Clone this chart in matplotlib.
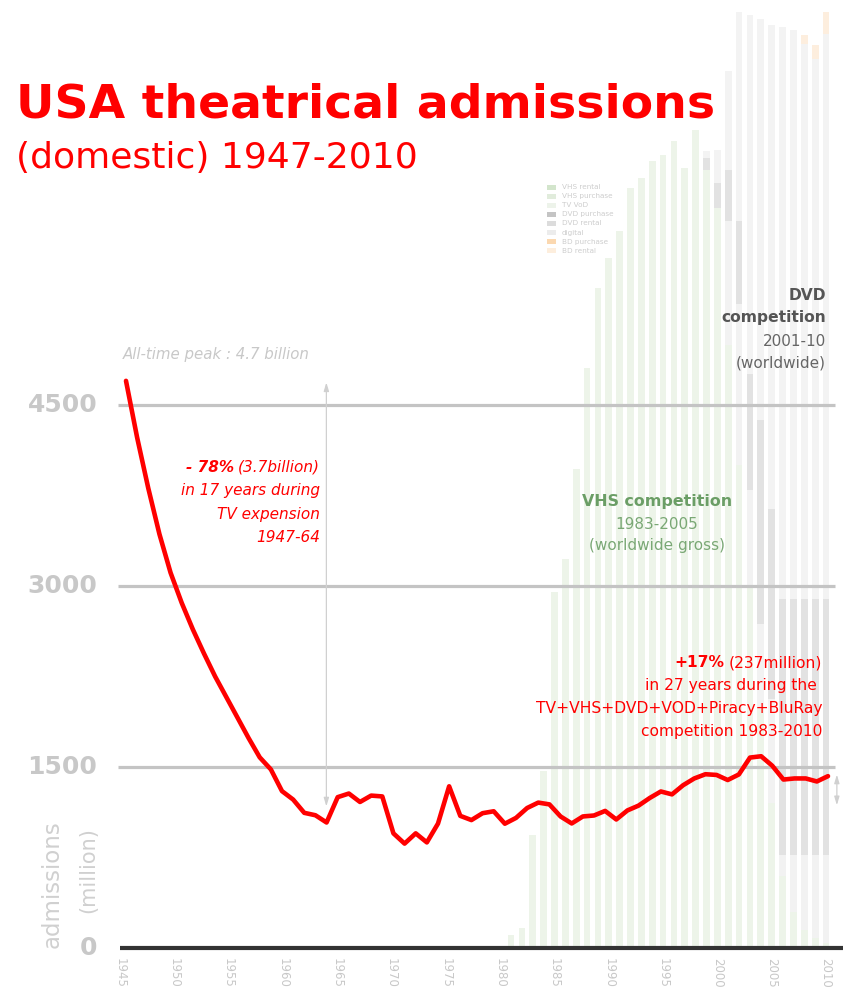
import matplotlib
matplotlib.use('Agg')
from matplotlib import pyplot as plt
from matplotlib.patches import Rectangle

plt.rcParams['font.family'] = ['DejaVu Sans']

# admissions (million)
years = list(range(1947, 2011))
admissions = [4700, 4230, 3810, 3430, 3110, 2860, 2640, 2440, 2250, 2080,
              1910, 1740, 1580, 1480, 1300, 1230, 1120, 1100, 1040, 1250,
              1280, 1210, 1263, 1256, 950, 865, 950, 875, 1031, 1340,
              1095, 1060, 1117, 1133, 1030, 1078, 1160, 1205, 1190, 1090,
              1032, 1090, 1098, 1136, 1065, 1140, 1180, 1243, 1297, 1273,
              1349, 1405, 1440, 1434, 1392, 1438, 1578, 1589, 1510, 1396,
              1405, 1405, 1380, 1424]

# faint background bars (video market, drawn on the same vertical scale)
bar_years = list(range(1981, 2011))
vhs = [108, 166, 939, 1463, 2950, 3224, 3972, 4803, 5468, 5717,
       5942, 6299, 6382, 6523, 6573, 6690, 6465, 6781, 6448, 6133,
       5000, 4000, 3000, 2000, 1200, 600, 300, 150, 80, 40]
dvd_rental = [0] * 20 + [1025, 1335, 798, 684, 861, 173, 473, 623, 693, 733]
dvd_purchase = [0] * 18 + [100, 207, 424, 690, 955, 1695, 1579, 2119, 2119, 2119, 2119, 2119]
digital = [0] * 18 + [58, 275, 822, 1728, 2975, 3316, 4005, 4737, 4712, 4598, 4475, 4681]
bluray = [0] * 27 + [80, 120, 180]

legend_labels = ['VHS rental', 'VHS purchase', 'TV VoD', 'DVD purchase',
                 'DVD rental', 'digital', 'BD purchase', 'BD rental']
legend_colors = ['#d3e5cc', '#e1ecdc', '#edf3ea', '#c4c4c4',
                 '#dcdcdc', '#ececec', '#fbd8b0', '#fdeedd']

tick_years = list(range(1945, 2011, 5))
grid_values = [1500, 3000, 4500]
ylabels = ['0', '1500', '3000', '4500']

RED = '#ff0000'
LGRAY = '#c8c8c8'


def fx(px):
    return px / 848


def fy(py):
    return 1 - py / 1000


fig = plt.figure(figsize=(8.48, 10), dpi=100)

# axis for the year labels and the background bars
ax_bg = fig.add_axes([0, 0, 1, 1])
ax_bg.set_xlim(1933.952, 2012.025)
ax_bg.set_ylim(-431, 7856)
ax_bg.axis('off')

# axis for the admissions curve
ax = fig.add_axes([0, 0, 1, 1])
ax.set_xlim(1935.693, 2011.795)
ax.set_ylim(-431, 7856)
ax.axis('off')
ax.patch.set_visible(False)

# stacked background bars
bottom = [0] * len(bar_years)
for vals, col in [(vhs, '#edf4e9'), (dvd_rental, '#f2f2f2'),
                  (dvd_purchase, '#e2e2e2'), (digital, '#f3f3f3'),
                  (bluray, '#fdeede')]:
    ax_bg.bar(bar_years, vals, bottom=bottom, width=0.62, color=col,
              linewidth=0, zorder=1)
    bottom = [b + v for b, v in zip(bottom, vals)]

# grid lines and baseline
ax_bg.hlines(grid_values, 1944.8, 2010.8, color='#c4c4c4', lw=2.3, zorder=2)
ax_bg.hlines(0, 1945, 2011.6, color='#333333', lw=3, zorder=3)

# y labels
for lab in ylabels:
    ax_bg.text(1942.9, float(lab), lab, ha='right', va='center',
               fontsize=18, fontweight='bold', color=LGRAY)
fig.text(fx(52), fy(884), 'admissions', rotation=90, ha='center', va='center',
         fontsize=16.5, color='#d0d0d0')
fig.text(fx(88), fy(870), '(million)', rotation=90, ha='center', va='center',
         fontsize=15, color='#d0d0d0')

# x labels
for yr in tick_years:
    ax_bg.text(yr, -80, str(yr), rotation=270, ha='center', va='top',
               fontsize=8.5, color=LGRAY)

# annotation arrows
ax_bg.annotate('', xy=(1964, 4710), xytext=(1964, 1150),
               arrowprops=dict(arrowstyle='<|-|>,head_length=0.5,head_width=0.15',
                               color='#d0d0d0', lw=0.9), zorder=2)
ax_bg.annotate('', xy=(2011, 1460), xytext=(2011, 1160),
               arrowprops=dict(arrowstyle='<|-|>,head_length=0.5,head_width=0.15',
                               color='#d0d0d0', lw=0.9), zorder=2)

# the curve
ax.plot(years, admissions, color=RED, lw=3.3, solid_joinstyle='round',
        solid_capstyle='round', zorder=5)

# title
fig.text(fx(16), fy(118), 'USA theatrical admissions', fontsize=34,
         fontweight='bold', color=RED, va='baseline')
fig.text(fx(16), fy(168), '(domestic) 1947-2010', fontsize=26,
         color=RED, va='baseline')

# legend
for i, (lab, col) in enumerate(zip(legend_labels, legend_colors)):
    yy = 187 + i * 9.1
    fig.add_artist(Rectangle((fx(547), fy(yy + 2.5)), 9 / 848, 5 / 1000,
                             transform=fig.transFigure, color=col, lw=0))
    fig.text(fx(562), fy(yy), lab, fontsize=5.2, color='#cdcdcd', va='center')

fig.text(fx(123), fy(359), 'All-time peak : 4.7 billion', fontsize=10.8,
         style='italic', color=LGRAY, va='baseline')


def line(x, y, rest, color, size, bold='', style='normal', ha='right'):
    t = fig.text(fx(x), fy(y), rest, ha=ha, va='baseline', color=color,
                 fontsize=size, style=style)
    if bold:
        ax.annotate(bold, xy=(0, 0), xycoords=t, xytext=(-3, 0),
                    textcoords='offset points', ha='right', va='bottom',
                    color=color, fontsize=size, style=style,
                    fontweight='bold', annotation_clip=False)
    return t


# -78 % block
line(320, 472, '(3.7billion)', RED, 11, bold='- 78%', style='italic')
line(320, 495, 'in 17 years during', RED, 11, style='italic')
line(320, 519, 'TV expension', RED, 11, style='italic')
line(320, 542, '1947-64', RED, 11, style='italic')

# VHS block
GREEN = '#6b9e66'
fig.text(fx(657), fy(506), 'VHS competition', ha='center', va='baseline',
         fontsize=11.4, fontweight='bold', color=GREEN)
fig.text(fx(657), fy(529), '1983-2005', ha='center', va='baseline',
         fontsize=11, color='#7aa875')
fig.text(fx(657), fy(550), '(worldwide gross)', ha='center', va='baseline',
         fontsize=11, color='#7aa875')

# DVD block
fig.text(fx(826), fy(300), 'DVD', ha='right', va='baseline', fontsize=11.2,
         fontweight='bold', color='#555555')
fig.text(fx(826), fy(322), 'competition', ha='right', va='baseline',
         fontsize=11.2, fontweight='bold', color='#555555')
fig.text(fx(826), fy(346), '2001-10', ha='right', va='baseline',
         fontsize=11, color='#666666')
fig.text(fx(826), fy(368), '(worldwide)', ha='right', va='baseline',
         fontsize=11, color='#666666')

# +17 % block
line(822, 667, '(237million)', RED, 11.2, bold='+17%')
line(817, 690, 'in 27 years during the', RED, 11.2)
line(822, 713, 'TV+VHS+DVD+VOD+Piracy+BluRay', RED, 11.2)
line(822, 736, 'competition 1983-2010', RED, 11.2)

fig.savefig('out.png', dpi=100)
